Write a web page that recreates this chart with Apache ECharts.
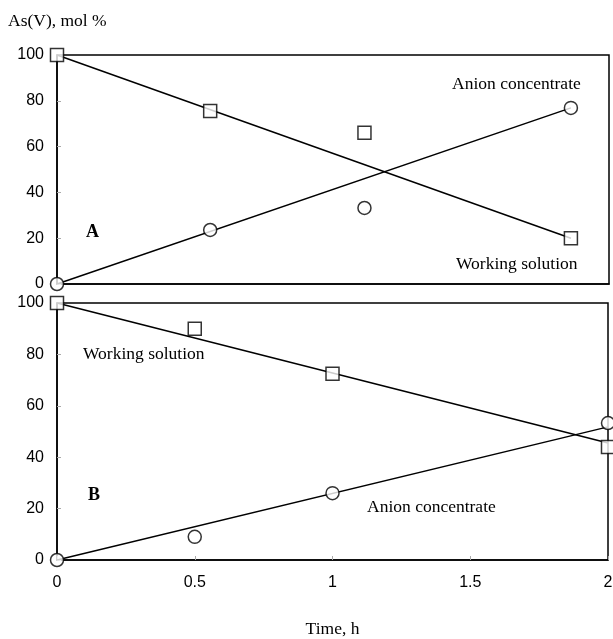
<!DOCTYPE html>
<html><head><meta charset="utf-8">
<script src="https://cdn.jsdelivr.net/npm/echarts@6/dist/echarts.min.js"></script>
<style>html,body{margin:0;padding:0;background:#fff}#c{width:613px;height:639px}</style>
</head><body><div id="c"></div>
<script>
// Panel A data
const timeA = [0, 0.555, 1.114, 1.862];
const workingA = [100, 75.5, 66, 20];
const anionA = [0, 23.6, 33.2, 76.9];
const fitWorkingA = [[0, 100], [1.862, 20]];
const fitAnionA = [[0, 0], [1.862, 76.9]];
// Panel B data
const timeB = [0, 0.5, 1, 2];
const workingB = [100, 90, 72.5, 44];
const anionB = [0, 9, 26, 53.3];
const fitWorkingB = [[0, 100], [2, 45.5]];
const fitAnionB = [[0, 0], [2, 51.8]];
const yTicks = [0, 20, 40, 60, 80, 100];
const xTicks = [0, 0.5, 1, 1.5, 2];

const chart = echarts.init(document.getElementById('c'));
const sans = 'Liberation Sans';
const serif = 'Liberation Serif';
const zip = (xs, ys) => xs.map((x, i) => [x, ys[i]]);
const markerStyle = {color: '#fff', borderColor: '#000', borderWidth: 1.5};
function pts(xi, yi, data, symbol) {
  return {type: 'scatter', xAxisIndex: xi, yAxisIndex: yi, data: data, symbol: symbol,
    symbolSize: 13, itemStyle: markerStyle, z: 5, silent: true};
}
function fit(xi, yi, data) {
  return {type: 'line', xAxisIndex: xi, yAxisIndex: yi, data: data, symbol: 'none',
    lineStyle: {color: '#000', width: 1.5}, z: 3, silent: true};
}
const yAxisBase = {
  type: 'value', min: 0, max: 100, interval: 20,
  axisLine: {show: true, lineStyle: {color: '#000', width: 1.5}},
  axisTick: {show: true, inside: true, length: 4, lineStyle: {color: '#aaa'}},
  axisLabel: {fontFamily: sans, fontSize: 16, color: '#000', margin: 13},
  splitLine: {show: false}
};
function txt(x, y, s, font) {
  return {type: 'text', x: x, y: y, style: {text: s, font: font, fill: '#000', verticalAlign: 'middle', align: 'left'}};
}
const F = '17.5px "Liberation Serif"';
const FB = 'bold 18px "Liberation Serif"';
chart.setOption({
  animation: false,
  grid: [
    {left: 57, right: 4, top: 55, height: 229, show: true, borderColor: '#000', borderWidth: 1.5,
     containLabel: false, outerBoundsMode: 'none'},
    {left: 57, right: 5, top: 303, height: 257, show: true, borderColor: '#000', borderWidth: 1.5,
     containLabel: false, outerBoundsMode: 'none'}
  ],
  xAxis: [
    {type: 'value', gridIndex: 0, min: 0, max: 2, interval: 0.5,
     axisLine: {show: true, lineStyle: {color: '#000', width: 1.5}},
     axisTick: {show: false}, axisLabel: {show: false}, splitLine: {show: false}},
    {type: 'value', gridIndex: 1, min: 0, max: 2, interval: 0.5,
     axisLine: {show: true, lineStyle: {color: '#000', width: 1.5}},
     axisTick: {show: true, inside: true, length: 4, lineStyle: {color: '#aaa'}},
     axisLabel: {fontFamily: sans, fontSize: 16, color: '#000', margin: 15,
       formatter: v => xTicks.includes(v) ? String(v) : ''},
     splitLine: {show: false},
     name: 'Time, h', nameLocation: 'middle', nameGap: 60,
     nameTextStyle: {fontFamily: serif, fontSize: 17.5, color: '#000'}}
  ],
  yAxis: [
    Object.assign({}, yAxisBase, {gridIndex: 0,
      axisLabel: Object.assign({}, yAxisBase.axisLabel, {formatter: v => yTicks.includes(v) ? String(v) : ''})}),
    Object.assign({}, yAxisBase, {gridIndex: 1,
      axisLabel: Object.assign({}, yAxisBase.axisLabel, {formatter: v => yTicks.includes(v) ? String(v) : ''})})
  ],
  series: [
    fit(0, 0, fitWorkingA), fit(0, 0, fitAnionA),
    pts(0, 0, zip(timeA, workingA), 'rect'), pts(0, 0, zip(timeA, anionA), 'circle'),
    fit(1, 1, fitWorkingB), fit(1, 1, fitAnionB),
    pts(1, 1, zip(timeB, workingB), 'rect'), pts(1, 1, zip(timeB, anionB), 'circle')
  ],
  graphic: [
    txt(8, 21, 'As(V), mol %', F),
    txt(452, 84, 'Anion concentrate', F),
    txt(456, 264, 'Working solution', F),
    txt(86, 232, 'A', FB),
    txt(83, 354, 'Working solution', F),
    txt(367, 507, 'Anion concentrate', F),
    txt(88, 495, 'B', FB)
  ]
});
</script></body></html>
